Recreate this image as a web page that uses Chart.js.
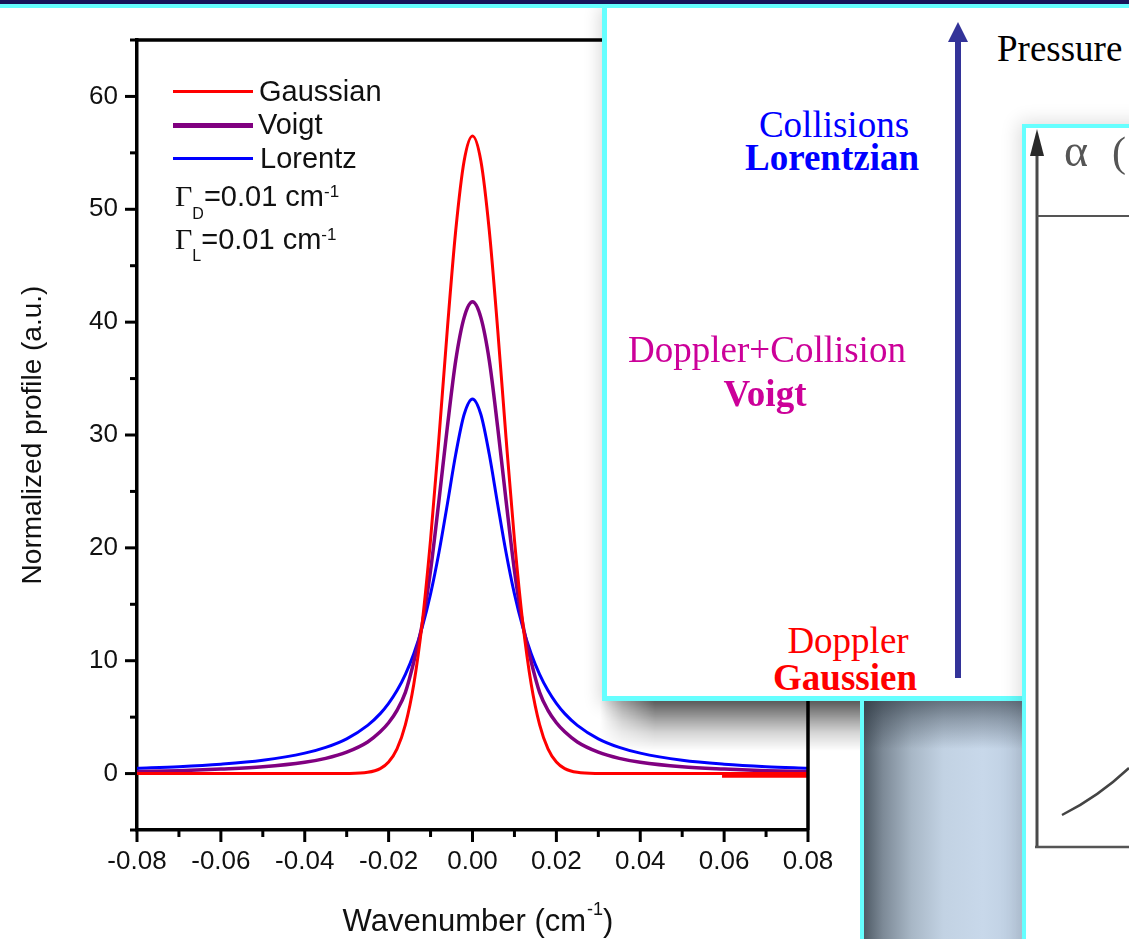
<!DOCTYPE html>
<html>
<head>
<meta charset="utf-8">
<title>Line profiles</title>
<script src="https://cdn.jsdelivr.net/npm/chart.js@4.4.1/dist/chart.umd.min.js"></script>
<style>
  html, body { margin: 0; padding: 0; }
  body { width: 1129px; height: 939px; overflow: hidden; position: relative; background: #fff;
         font-family: "Liberation Sans", Arial, sans-serif; color: #111; }
  .abs { position: absolute; }
  #topbar { left: 0; top: 0; width: 1129px; height: 4px; background: #16165a; z-index: 10; }
  #topcyan { left: 0; top: 4px; width: 1129px; height: 4px; background: #66ffff; z-index: 10; }
  #chartBox { left: 0; top: 0; width: 860px; height: 939px; z-index: 3; }
  #shadow1 { left: 602px; top: 3px; width: 600px; height: 698px; background: #fff;
             box-shadow: -2px 4px 16px rgba(0,0,0,0.16); z-index: 1; }
  #shadowBottom { left: 600px; top: 701px; width: 262px; height: 50px; z-index: 2;
                  background: linear-gradient(to bottom, rgba(0,0,0,0.6) 0px, rgba(0,0,0,0.42) 14px, rgba(0,0,0,0.16) 32px, rgba(0,0,0,0) 50px);
                  -webkit-mask-image: linear-gradient(to right, transparent 0px, rgba(0,0,0,0.5) 22px, #000 55px);
                  mask-image: linear-gradient(to right, transparent 0px, rgba(0,0,0,0.5) 22px, #000 55px); }
  #panel { left: 860px; top: 701px; width: 163px; height: 238px; box-sizing: border-box;
           border-left: 4px solid #66ffff; z-index: 4;
           background: linear-gradient(to bottom, rgba(40,50,60,0.6) 0px, rgba(40,50,60,0.35) 18px, rgba(40,50,60,0) 48px),
                       linear-gradient(to right, #4f5b66 0%, #7d8a97 12%, #a8b7c6 30%, #c2d2e3 50%, #c8d8ea 75%, #bccde0 100%); }
  #box1 { left: 602px; top: 3px; width: 600px; height: 698px; box-sizing: border-box;
          border: 5px solid #66ffff; background: #fff; z-index: 5; }
  #box2 { left: 1022px; top: 124px; width: 200px; height: 900px; box-sizing: border-box;
          border: 4px solid #66ffff; background: #fff; z-index: 7; box-shadow: -3px -2px 18px rgba(0,0,0,0.14); }
  #overlay { left: 0; top: 0; z-index: 8; }
  .serif { font-family: "Liberation Serif", "Times New Roman", serif; font-size: 37px; line-height: 37px;
           white-space: nowrap; z-index: 6; }
  .ctr { width: 400px; text-align: center; }
  .leg { font-size: 29px; line-height: 29px; white-space: nowrap; z-index: 4; }
  .legline { left: 173px; width: 80px; z-index: 4; }
  .gam { font-family: "Liberation Serif", "Times New Roman", serif; font-size: 30px; }
  .sub { font-size: 16px; position: relative; }
  .sup { font-size: 17px; position: relative; top: -9px; }
</style>
</head>
<body>
<div id="topbar" class="abs"></div>
<div id="topcyan" class="abs"></div>
<div id="shadow1" class="abs"></div>
<div id="shadowBottom" class="abs"></div>
<div id="chartBox" class="abs"><canvas id="chart" width="860" height="939"></canvas></div>

<!-- legend inside the plot -->
<div id="legGauss" class="abs legline" style="top:90px;height:3px;"></div>
<div id="legVoigt" class="abs legline" style="top:122.5px;height:5px;"></div>
<div id="legLorentz" class="abs legline" style="top:156.5px;height:3px;"></div>
<div class="abs leg" style="left:259px;top:76.5px;">Gaussian</div>
<div class="abs leg" style="left:258px;top:109.5px;">Voigt</div>
<div class="abs leg" style="left:260px;top:143.5px;">Lorentz</div>
<div class="abs leg" style="left:175px;top:180.5px;"><span class="gam">Γ</span><span class="sub" style="top:13px;">D</span>=0.01 cm<span class="sup">-1</span></div>
<div class="abs leg" style="left:175px;top:223.5px;"><span class="gam">Γ</span><span class="sub" style="top:12px;">L</span>=0.01 cm<span class="sup">-1</span></div>

<div id="panel" class="abs"></div>
<div id="box1" class="abs"></div>
<div class="abs serif" style="left:997px;top:30px;color:#000;">Pressure</div>
<div class="abs serif ctr" style="left:634px;top:106px;color:#0000ff;">Collisions</div>
<div class="abs serif ctr" style="left:632px;top:139px;color:#0000ff;font-weight:bold;">Lorentzian</div>
<div class="abs serif ctr" style="left:567px;top:331px;color:#cc0099;">Doppler+Collision</div>
<div class="abs serif ctr" style="left:565px;top:375px;color:#cc0099;font-weight:bold;">Voigt</div>
<div class="abs serif ctr" style="left:648px;top:622px;color:#ff0000;">Doppler</div>
<div class="abs serif ctr" style="left:645px;top:659px;color:#ff0000;font-weight:bold;">Gaussien</div>
<div id="box2" class="abs"></div>

<svg id="overlay" class="abs" width="1129" height="939" viewBox="0 0 1129 939">
  <line x1="958" y1="678" x2="958" y2="38" stroke="#333399" stroke-width="6"/>
  <polygon points="958,22 948,42 968,42" fill="#333399"/>
  <g style="filter: blur(0.7px);">
    <line x1="1037" y1="150" x2="1037" y2="847" stroke="#4a4a4a" stroke-width="3"/>
    <polygon points="1037,129 1030,156 1044,156" fill="#2a2a2a"/>
    <text x="1064" y="166" font-family="Liberation Serif, serif" font-size="46" fill="#555">α</text>
    <text x="1112" y="166" font-family="Liberation Serif, serif" font-size="42" fill="#555">(</text>
    <line x1="1037" y1="216" x2="1129" y2="216" stroke="#555" stroke-width="2"/>
    <line x1="1035" y1="847" x2="1129" y2="847" stroke="#555" stroke-width="2.5"/>
    <path d="M1062 815 Q1098 797 1129 768" fill="none" stroke="#444" stroke-width="2.5"/>
  </g>
</svg>

<script>
// values (normalized profile, a.u.)
const wavenumber = [-0.08, -0.07, -0.06, -0.05, -0.04, -0.035, -0.03, -0.025, -0.022, -0.02,
  -0.018, -0.016, -0.014, -0.012, -0.01, -0.008, -0.006, -0.004, -0.002, 0,
  0.002, 0.004, 0.006, 0.008, 0.01, 0.012, 0.014, 0.016, 0.018, 0.02,
  0.022, 0.025, 0.03, 0.035, 0.04, 0.05, 0.06, 0.07, 0.08];
const gaussian = [0, 0, 0, 0, 0, 0, 0.01, 0.11, 0.44, 1.02,
  2.19, 4.33, 7.91, 13.33, 20.73, 29.74, 39.37, 48.12, 54.28, 56.5,
  54.28, 48.12, 39.37, 29.74, 20.73, 13.33, 7.91, 4.33, 2.19, 1.02,
  0.44, 0.11, 0.01, 0, 0, 0, 0, 0, 0];
const voigt = [0.17, 0.26, 0.40, 0.60, 1.0, 1.35, 1.9, 2.8, 3.7, 4.5,
  5.6, 7.2, 9.9, 13.2, 18.0, 24.2, 30.7, 36.6, 40.4, 41.8,
  40.4, 36.6, 30.7, 24.2, 18.0, 13.2, 9.9, 7.2, 5.6, 4.5,
  3.7, 2.8, 1.9, 1.35, 1.0, 0.60, 0.40, 0.26, 0.17];
const lorentz = [0.47, 0.61, 0.83, 1.18, 1.81, 2.32, 3.08, 4.27, 5.31, 6.22,
  7.35, 8.79, 10.62, 12.96, 15.92, 19.59, 23.87, 28.29, 31.82, 33.2,
  31.82, 28.29, 23.87, 19.59, 15.92, 12.96, 10.62, 8.79, 7.35, 6.22,
  5.31, 4.27, 3.08, 2.32, 1.81, 1.18, 0.83, 0.61, 0.47];
// short thick red stroke near the right end of the baseline
const tailX = [0.0595, 0.08];
const tailY = [-0.15, -0.15];

const xTickLabels = ['-0.08', '-0.06', '-0.04', '-0.02', '0.00', '0.02', '0.04', '0.06', '0.08'];
const yTickLabels = ['0', '10', '20', '30', '40', '50', '60'];
const seriesColors = { gaussian: '#ff0000', voigt: '#800080', lorentz: '#0000ff' };

document.getElementById('legGauss').style.background = seriesColors.gaussian;
document.getElementById('legVoigt').style.background = seriesColors.voigt;
document.getElementById('legLorentz').style.background = seriesColors.lorentz;

Chart.defaults.font.family = '"Liberation Sans", Arial, sans-serif';
Chart.defaults.color = '#111';

function pts(xs, ys) {
  return xs.map((x, i) => ({ x: x, y: ys[i] }));
}

// frame, outward ticks and the x title with its superscript
const axisDecor = {
  id: 'axisDecor',
  afterDraw(chart) {
    const { ctx, chartArea: area, scales } = chart;
    ctx.save();
    ctx.strokeStyle = '#000';
    ctx.lineWidth = 3.5;
    ctx.beginPath();
    ctx.moveTo(area.left, area.top);
    ctx.lineTo(area.right, area.top);
    ctx.lineTo(area.right, area.bottom);
    ctx.stroke();

    ctx.lineWidth = 3;
    scales.y.ticks.forEach(t => {
      const len = t.label ? 12 : 7;
      const py = scales.y.getPixelForValue(t.value);
      ctx.beginPath();
      ctx.moveTo(area.left - len, py);
      ctx.lineTo(area.left, py);
      ctx.stroke();
    });
    scales.x.ticks.forEach(t => {
      const len = t.label ? 12 : 7;
      const px = scales.x.getPixelForValue(t.value);
      ctx.beginPath();
      ctx.moveTo(px, area.bottom);
      ctx.lineTo(px, area.bottom + len);
      ctx.stroke();
    });

    const bigFont = '31px "Liberation Sans", Arial, sans-serif';
    const smallFont = '18px "Liberation Sans", Arial, sans-serif';
    const p1 = 'Wavenumber (cm', p2 = '-1', p3 = ')';
    ctx.font = bigFont;
    const w1 = ctx.measureText(p1).width, w3 = ctx.measureText(p3).width;
    ctx.font = smallFont;
    const w2 = ctx.measureText(p2).width;
    let x0 = (area.left + area.right) / 2 + 5 - (w1 + w2 + w3) / 2;
    const base = 931;
    ctx.fillStyle = '#111';
    ctx.textBaseline = 'alphabetic';
    ctx.textAlign = 'left';
    ctx.font = bigFont;
    ctx.fillText(p1, x0, base);
    ctx.font = smallFont;
    ctx.fillText(p2, x0 + w1 + 1, base - 16);
    ctx.font = bigFont;
    ctx.fillText(p3, x0 + w1 + w2 + 1, base);
    ctx.restore();
  }
};

new Chart(document.getElementById('chart').getContext('2d'), {
  type: 'line',
  data: {
    datasets: [
      { label: 'Gaussian', data: pts(wavenumber, gaussian), borderColor: seriesColors.gaussian, borderWidth: 3 },
      { label: 'Voigt', data: pts(wavenumber, voigt), borderColor: seriesColors.voigt, borderWidth: 3.5 },
      { label: 'Lorentz', data: pts(wavenumber, lorentz), borderColor: seriesColors.lorentz, borderWidth: 3 },
      { label: 'tail', data: pts(tailX, tailY), borderColor: seriesColors.gaussian, borderWidth: 5 }
    ]
  },
  options: {
    responsive: false,
    animation: false,
    devicePixelRatio: 1,
    layout: { padding: { left: 0, top: 40, right: 52, bottom: 0 } },
    elements: {
      point: { radius: 0 },
      line: { cubicInterpolationMode: 'monotone', borderJoinStyle: 'round', borderCapStyle: 'butt' }
    },
    plugins: { legend: { display: false }, tooltip: { enabled: false } },
    scales: {
      x: {
        type: 'linear',
        min: -0.08,
        max: 0.08,
        grid: { display: true, drawOnChartArea: false, drawTicks: false },
        border: { display: true, color: '#000', width: 3.5 },
        ticks: {
          stepSize: 0.01,
          autoSkip: false,
          maxRotation: 0,
          padding: 16,
          font: { size: 26 },
          color: '#111',
          callback: function(value) {
            const s = (Math.round(value * 100) / 100).toFixed(2);
            return xTickLabels.includes(s) ? s : '';
          }
        },
        afterFit: function(s) { s.height = 109; s.paddingLeft = 0; s.paddingRight = 0; }
      },
      y: {
        min: -5,
        max: 65,
        grid: { display: true, drawOnChartArea: false, drawTicks: false },
        border: { display: true, color: '#000', width: 3.5 },
        ticks: {
          stepSize: 5,
          autoSkip: false,
          padding: 19,
          font: { size: 26 },
          color: '#111',
          callback: function(value) {
            const s = String(Math.round(value));
            return yTickLabels.includes(s) ? s : '';
          }
        },
        title: {
          display: true,
          text: 'Normalized profile (a.u.)',
          font: { size: 28 },
          color: '#111',
          padding: { top: 16, bottom: 0 }
        },
        afterFit: function(s) { s.width = 137; s.paddingTop = 0; s.paddingBottom = 0; }
      }
    }
  },
  plugins: [axisDecor]
});
</script>
</body>
</html>
